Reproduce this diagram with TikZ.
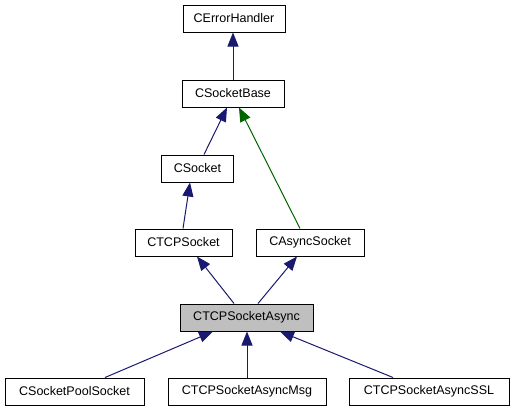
\documentclass[tikz,border=0pt]{standalone}
\usepackage{fontspec}
\setmainfont{Liberation Sans}
\usetikzlibrary{arrows.meta}
\definecolor{edgeblue}{HTML}{191970}
\definecolor{edgegreen}{HTML}{006400}
\definecolor{boxgray}{HTML}{BFBFBF}
\begin{document}
\begin{tikzpicture}[x=0.75pt,y=-0.75pt,
  cls/.style={draw=black,line width=0.75pt,fill=white,minimum height=27*0.75pt,inner sep=0pt,
    font=\fontsize{9.4pt}{11pt}\selectfont},
  cur/.style={cls,fill=boxgray},
  edge/.style={draw=edgeblue,line width=0.75pt,-{Triangle[length=10.5pt,width=8.25pt]}},
  gedge/.style={edge,draw=edgegreen}]
\useasboundingbox (0,0) rectangle (512,411);
\node[cls,minimum width=102*0.75pt] (err) at (234,18.5) {CErrorHandler};
\node[cls,minimum width=102*0.75pt] (base) at (233,93.5) {CSocketBase};
\node[cls,minimum width=72*0.75pt] (sock) at (197.5,168.5) {CSocket};
\node[cls,minimum width=97*0.75pt] (tcp) at (183.5,242.5) {CTCPSocket};
\node[cls,minimum width=108*0.75pt] (async) at (310,242.5) {CAsyncSocket};
\node[cur,minimum width=133*0.75pt] (tcpa) at (246.5,317.5) {CTCPSocketAsync};
\node[cls,minimum width=139*0.75pt] (pool) at (74.5,391.5) {CSocketPoolSocket};
\node[cls,minimum width=158*0.75pt] (msg) at (247,391.5) {CTCPSocketAsyncMsg};
\node[cls,minimum width=160*0.75pt] (ssl) at (429,391.5) {CTCPSocketAsyncSSL};
\draw[edge] (base.north) -- (base.north |- err.south);
\draw[edge] ([xshift=6.5*0.75pt]sock.north) -- ([xshift=-6*0.75pt]base.south);
\draw[gedge] ([xshift=-10*0.75pt]async.north) -- ([xshift=6*0.75pt]base.south);
\draw[edge] ([xshift=-0.5*0.75pt]tcp.north) -- ([xshift=-7.5*0.75pt]sock.south);
\draw[edge] ([xshift=-12.5*0.75pt]tcpa.north) -- ([xshift=13.5*0.75pt]tcp.south);
\draw[edge] ([xshift=11.5*0.75pt]tcpa.north) -- ([xshift=-13*0.75pt]async.south);
\draw[edge] ([xshift=30.5*0.75pt]pool.north) -- ([xshift=-33.5*0.75pt]tcpa.south);
\draw[edge] (msg.north) -- (msg.north |- tcpa.south);
\draw[edge] ([xshift=-36*0.75pt]ssl.north) -- ([xshift=33.5*0.75pt]tcpa.south);
\end{tikzpicture}
\end{document}
